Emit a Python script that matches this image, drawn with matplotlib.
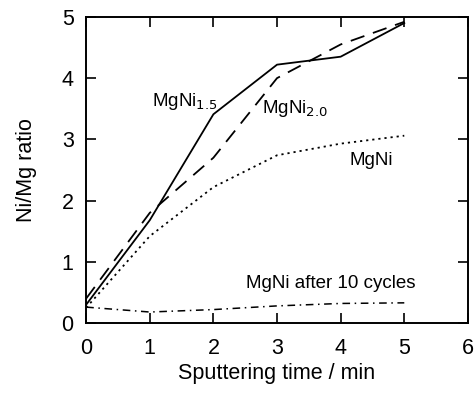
import matplotlib
matplotlib.use("Agg")
import matplotlib.pyplot as plt

plt.rcParams['font.family'] = ['Liberation Sans', 'DejaVu Sans']

# time points (min)
t = [0, 1, 2, 3, 4, 5]

# Ni/Mg ratio for each sample
mgni15 = [0.30, 1.68, 3.41, 4.22, 4.35, 4.90]
mgni20 = [0.40, 1.80, 2.70, 4.00, 4.55, 4.92]
mgni = [0.25, 1.42, 2.22, 2.74, 2.93, 3.06]
mgni_10cyc = [0.26, 0.18, 0.22, 0.28, 0.32, 0.33]

fig = plt.figure(figsize=(4.76, 3.93), dpi=100)
ax = fig.add_axes([0.181, 0.178, 0.802, 0.779])

ax.plot(t, mgni15, color='black', lw=1.3, linestyle='-')
ax.plot(t, mgni20, color='black', lw=1.3, linestyle=(0, (8, 5)))
ax.plot(t, mgni, color='black', lw=1.3, linestyle=(0, (1.2, 2.2)))
ax.plot(t, mgni_10cyc, color='black', lw=1.1, linestyle=(0, (5, 3, 1, 3)))

# labels on curves
ax.text(1.03, 3.62, 'MgNi$_{1.5}$', fontsize=13.5, va='center')
ax.text(2.76, 3.50, 'MgNi$_{2.0}$', fontsize=13.5, va='center')
ax.text(4.14, 2.65, 'MgNi', fontsize=13.5, va='center')
ax.text(2.51, 0.65, 'MgNi after 10 cycles', fontsize=13.5, va='center')

ax.set_xlim(0, 6)
ax.set_ylim(0, 5)
ax.set_xticks(range(0, 7))
ax.set_yticks(range(0, 6))
ax.tick_params(direction='in', length=7, width=1.2, top=True, right=True,
               labelsize=15.5)
ax.tick_params(axis='x', pad=11)
ax.tick_params(axis='y', pad=9)
for s in ax.spines.values():
    s.set_linewidth(1.4)

ax.set_xlabel('Sputtering time / min', fontsize=15.5, labelpad=3)
ax.set_ylabel('Ni/Mg ratio', fontsize=15.5, labelpad=18)

fig.savefig('out.png', dpi=100)
